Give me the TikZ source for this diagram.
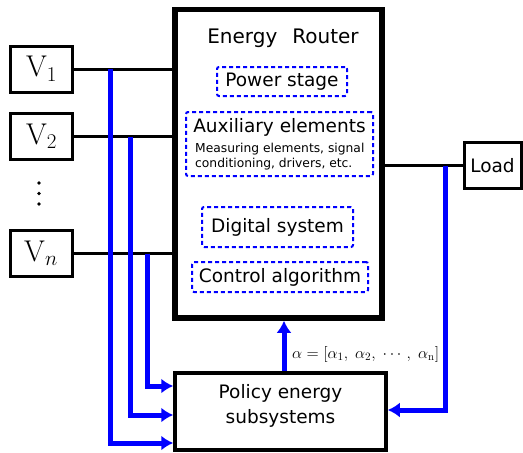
\RequirePackage{fix-cm}
\documentclass[tikz,border=0pt]{standalone}
\usepackage{fontspec}
\newfontfamily\dv{DejaVu Sans}
\usetikzlibrary{arrows.meta}
\begin{document}
\begin{tikzpicture}[x=1pt,y=-1pt,
  wire/.style={line width=3pt},
  bline/.style={draw=blue, line width=5pt, -{Latex[length=12pt,width=15pt]}},
  vbox/.style={draw, line width=3pt, minimum width=62pt, minimum height=46pt, inner sep=0pt, font=\fontsize{30}{34}\selectfont},
  dbox/.style={draw=blue, line width=2pt, dash pattern=on 4pt off 3pt, rounded corners=2pt, inner sep=0pt, font=\dv\fontsize{18.5}{22}\selectfont},
  txt/.style={font=\dv\fontsize{18.5}{22}\selectfont, inner sep=0pt},
  small/.style={font=\dv\fontsize{12.3}{15}\selectfont, inner sep=0pt}]
\useasboundingbox[fill=white] (0,0) rectangle (523,453);

% Energy router
\node[draw, line width=5.5pt, minimum width=207pt, minimum height=308.5pt] (router) at (278.5,163.75) {};
\node[txt, font=\dv\fontsize{20}{24}\selectfont, anchor=base] (title) at (283,43.3) {Energy\hspace{0.75em}Router};
\node[dbox, minimum width=130pt, minimum height=29pt] (ps) at (282,81.5) {Power stage};
\node[dbox, minimum width=187pt, minimum height=64pt] (aux) at (279.5,144) {};
\node[txt, anchor=base] (auxt) at (279.5,132) {Auxiliary elements};
\node[small, anchor=base west] (aux1) at (195,152) {Measuring elements, signal};
\node[small, anchor=base west] (aux2) at (195,167) {conditioning, drivers, etc.};
\node[dbox, minimum width=151pt, minimum height=40pt] (ds) at (277.5,227) {Digital system};
\node[dbox, minimum width=176pt, minimum height=30pt] (ca) at (280,277) {Control algorithm};

% Sources
\node[vbox] (v1) at (41.5,69) {$\mathrm{V}_1$};
\node[vbox] (v2) at (41.5,136.5) {$\mathrm{V}_2$};
\node[vbox] (vn) at (41,253.5) {$\mathrm{V}_n$};
\fill (39,183) circle (1.8);
\fill (39,193.5) circle (1.8);
\fill (39,204) circle (1.8);

% Load
\node[draw, line width=3pt, minimum width=57pt, minimum height=46pt, txt] (load) at (492.5,165.5) {Load};

% Policy
\node[draw, line width=3.5pt, minimum width=211pt, minimum height=77pt] (pol) at (280.5,411.5) {};
\node[txt, anchor=base] (pt1) at (280.5,398) {Policy energy};
\node[txt, anchor=base] (pt2) at (280.5,423) {subsystems};

% black wires
\draw[wire] (v1.east) -- (v1.east -| router.west);
\draw[wire] (v2.east) -- (v2.east -| router.west);
\draw[wire] (vn.east) -- (vn.east -| router.west);
\draw[wire] (load.west -| router.east) -- (load.west);

% blue measurement lines
\coordinate (b1) at (110,69);
\coordinate (b2) at (130,136.5);
\coordinate (b3) at (147,253.5);
\coordinate (bl) at (445,165.5);
\coordinate (pa) at (284,0);
\draw[bline] (b1) |- ([yshift=-31.5pt]pol.west);
\draw[bline] (b2) |- ([yshift=-3.5pt]pol.west);
\draw[bline] (b3) |- ([yshift=25.5pt]pol.west);
\draw[bline] (bl) |- ([yshift=1.5pt]pol.east);
\draw[bline] (pol.north -| pa) -- (router.south -| pa);

\node[anchor=base west, font=\fontsize{16}{19}\selectfont, inner sep=0pt] (alpha) at (292,358) {$\alpha=[\alpha_1,\;\alpha_2,\;\cdots\,,\;\alpha_{\mathrm{n}}]$};
\end{tikzpicture}
\end{document}
